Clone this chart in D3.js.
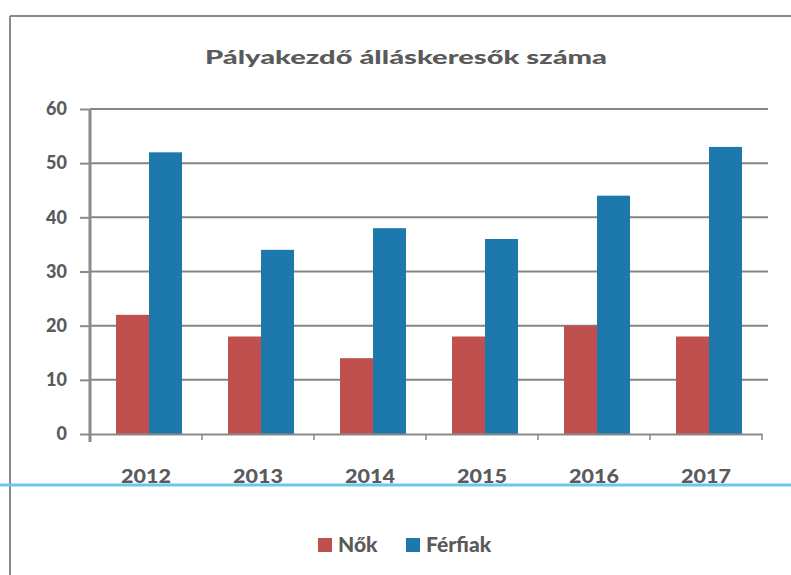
<!DOCTYPE html>
<html>
<head>
<meta charset="utf-8">
<script src="https://cdn.jsdelivr.net/npm/d3@7"></script>
<style>
  body { margin: 0; background: #fff; }
  text { font-family: Lato, "Open Sans", sans-serif; font-weight: 900; fill: #5a5a5a; }
</style>
</head>
<body>
<script>
// adatok
var years = ["2012", "2013", "2014", "2015", "2016", "2017"];
var seriesNames = ["Nők", "Férfiak"];
var nok = [22, 18, 14, 18, 20, 18];
var ferfiak = [52, 34, 38, 36, 44, 53];
var yTicks = [0, 10, 20, 30, 40, 50, 60];
var colors = ["#c0504d", "#1c78ad"];

var W = 791, H = 575;
var margin = { top: 109, left: 90, right: 29, bottom: 141 },
    width = W - margin.left - margin.right,
    height = H - margin.top - margin.bottom;

var svg = d3.select("body").append("svg")
    .attr("width", W)
    .attr("height", H);

// keret (szkennelt diagram széle)
svg.append("line").attr("x1", 10).attr("x2", W).attr("y1", 16).attr("y2", 16)
    .attr("stroke", "#8a8a8a").attr("stroke-width", 2);
svg.append("line").attr("x1", 10).attr("x2", 10).attr("y1", 16).attr("y2", H)
    .attr("stroke", "#8a8a8a").attr("stroke-width", 2);

// cím
svg.append("text")
    .attr("x", 406)
    .attr("y", 64)
    .attr("text-anchor", "middle")
    .attr("font-size", 19)
    .attr("textLength", 402)
    .attr("lengthAdjust", "spacingAndGlyphs")
    .text("Pályakezdő álláskeresők száma");

var g = svg.append("g")
    .attr("transform", "translate(" + margin.left + "," + margin.top + ")");

var x0 = d3.scaleBand().domain(years).range([0, width]).paddingInner(0).paddingOuter(0);
var x1 = d3.scaleBand().domain(seriesNames).range([0, 66]).padding(0);
var y = d3.scaleLinear().domain([0, 60]).range([height, 0]);

// rácsvonalak
g.append("g")
    .selectAll("line")
    .data(yTicks.slice(1))
    .enter().append("line")
    .attr("x1", 0)
    .attr("x2", width + 6)
    .attr("y1", function (d) { return y(d); })
    .attr("y2", function (d) { return y(d); })
    .attr("stroke", "#858585")
    .attr("stroke-width", 2);

// oszlopok
var data = years.map(function (yr, i) {
    return { year: yr, values: [{ key: "Nők", value: nok[i] }, { key: "Férfiak", value: ferfiak[i] }] };
});

g.append("g")
    .selectAll("g")
    .data(data)
    .enter().append("g")
    .attr("transform", function (d) {
        return "translate(" + (x0(d.year) + x0.bandwidth() / 2 - 30) + ",0)";
    })
    .selectAll("rect")
    .data(function (d) { return d.values; })
    .enter().append("rect")
    .attr("x", function (d) { return x1(d.key); })
    .attr("y", function (d) { return y(d.value); })
    .attr("width", x1.bandwidth())
    .attr("height", function (d) { return height - y(d.value); })
    .attr("fill", function (d, i) { return colors[i]; });

// x tengely
var xAxis = g.append("g")
    .attr("transform", "translate(0," + height + ")")
    .call(d3.axisBottom(x0).tickSize(0).tickPadding(36));
xAxis.select(".domain").attr("stroke", "#8a8a8a").attr("stroke-width", 2);
xAxis.selectAll("text")
    .attr("font-size", 18)
    .attr("fill", "#5a5a5a")
    .attr("font-family", "Lato, sans-serif")
    .attr("font-weight", 900)
    .attr("textLength", 50)
    .attr("lengthAdjust", "spacingAndGlyphs");

// kis osztásjelek a kategóriák között
g.append("g")
    .selectAll("line")
    .data(years.slice(1).concat(["end"]))
    .enter().append("line")
    .attr("x1", function (d, i) { return x0.step() * (i + 1); })
    .attr("x2", function (d, i) { return x0.step() * (i + 1); })
    .attr("y1", height)
    .attr("y2", height + 6)
    .attr("stroke", "#8a8a8a")
    .attr("stroke-width", 1.5);

// y tengely
var yAxis = g.append("g")
    .call(d3.axisLeft(y).tickValues(yTicks).tickSize(10).tickPadding(13));
yAxis.select(".domain").attr("stroke", "#8a8a8a").attr("stroke-width", 3)
    .attr("d", "M0," + (height + 8) + "V0");
yAxis.selectAll(".tick line").attr("stroke", "#8a8a8a").attr("stroke-width", 2);
yAxis.selectAll("text")
    .attr("font-size", 18)
    .attr("fill", "#5a5a5a")
    .attr("font-family", "Lato, sans-serif")
    .attr("font-weight", 900);

// kék vonal a szkennelésből
svg.append("line").attr("x1", 0).attr("x2", W).attr("y1", 485).attr("y2", 485)
    .attr("stroke", "#6cc6ef").attr("stroke-width", 3);

// jelmagyarázat
var legendX = [318, 406];
var legend = svg.append("g")
    .selectAll("g")
    .data(seriesNames)
    .enter().append("g")
    .attr("transform", function (d, i) { return "translate(" + legendX[i] + ",545)"; });

legend.append("rect")
    .attr("x", 0)
    .attr("y", -7)
    .attr("width", 14)
    .attr("height", 14)
    .attr("fill", function (d, i) { return colors[i]; });

legend.append("text")
    .attr("x", 20)
    .attr("dy", "0.35em")
    .attr("font-size", 21)
    .text(function (d) { return d; });
</script>
</body>
</html>
